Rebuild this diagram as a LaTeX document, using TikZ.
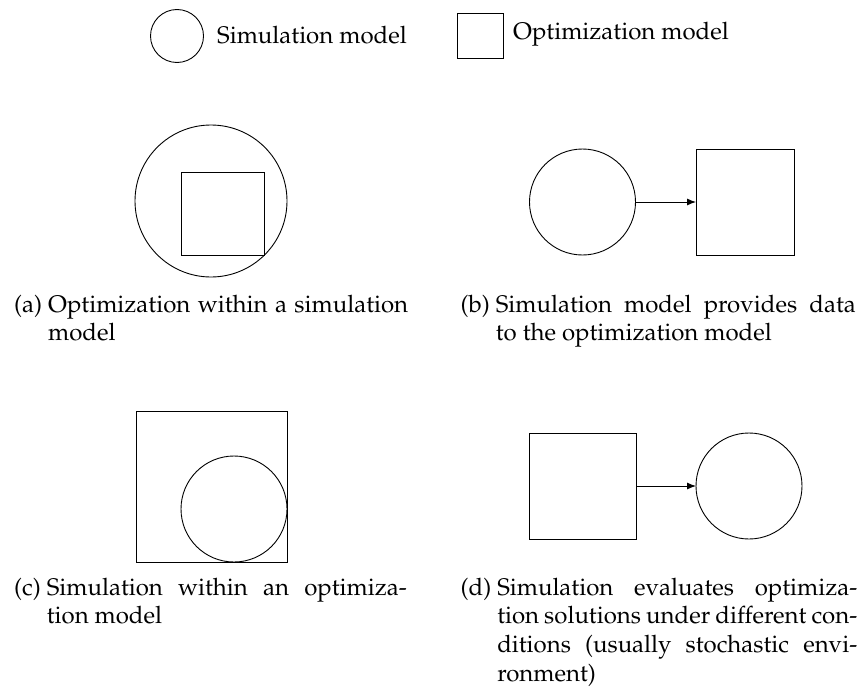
\documentclass[tikz,border=0pt]{standalone}
\usepackage[T1]{fontenc}
\usepackage{mathpazo}
\usetikzlibrary{arrows.meta}
\newcommand{\capW}{360pt}
\newcommand{\fullline}[1]{\makebox[\capW][s]{#1}}
\begin{document}
\begin{tikzpicture}[x=1pt,y=-1pt,
  shp/.style={draw, line width=0.9pt, inner sep=0pt, outer sep=0pt},
  simc/.style={shp, circle, minimum size=#1},
  optr/.style 2 args={shp, rectangle, minimum width=#1, minimum height=#2},
  conn/.style={line width=0.9pt, -{Latex[length=9pt,width=7pt]}},
  legtxt/.style={inner sep=0pt, anchor=base west, font=\fontsize{24}{28.8}\selectfont},
  captxt/.style={inner sep=0pt, anchor=base west, font=\fontsize{24}{28.8}\selectfont}]
\useasboundingbox (0,0) rectangle (861,693);
% legend
\node[simc=53pt] (legc) at (177,36) {};
\node[legtxt] (legct) at (217,44) {Simulation model};
\node[optr={46pt}{45pt}] (legr) at (480,35.5) {};
\node[legtxt] (legrt) at (513,40) {Optimization model};
% (a)
\node[simc=152pt] (ac) at (211,201) {};
\node[optr={83pt}{83pt}] (ar) at (222.5,213.5) {};
\node[captxt] (acap) at (14,312) {(a)\ \parbox[t]{\capW}{\fullline{Optimization within a simulation}\\model}};
% (b)
\node[simc=106pt] (bc) at (582.5,202) {};
\node[optr={98pt}{106pt}] (br) at (745,202) {};
\draw[conn] (bc) -- (br);
\node[captxt] (bcap) at (460.4,312) {(b)\ \parbox[t]{\capW}{\fullline{Simulation model provides data}\\to the optimization model}};
% (c)
\node[optr={151pt}{151pt}] (cr) at (211.5,486.5) {};
\node[simc=106pt] (cc) at (234,509) {};
\node[captxt] (ccap) at (14,595) {(c)\ \parbox[t]{\capW}{\fullline{Simulation within an optimiza-}\\tion model}};
% (d)
\node[optr={107pt}{106pt}] (dr) at (582.5,486) {};
\node[simc=106pt] (dc) at (749,486) {};
\draw[conn] (dr) -- (dc);
\node[captxt] (dcap) at (460.4,595) {(d)\ \parbox[t]{\capW}{\fullline{Simulation evaluates optimiza-}\\\fullline{tion solutions under different con-}\\\fullline{ditions (usually stochastic envi-}\\ronment)}};
\end{tikzpicture}
\end{document}
